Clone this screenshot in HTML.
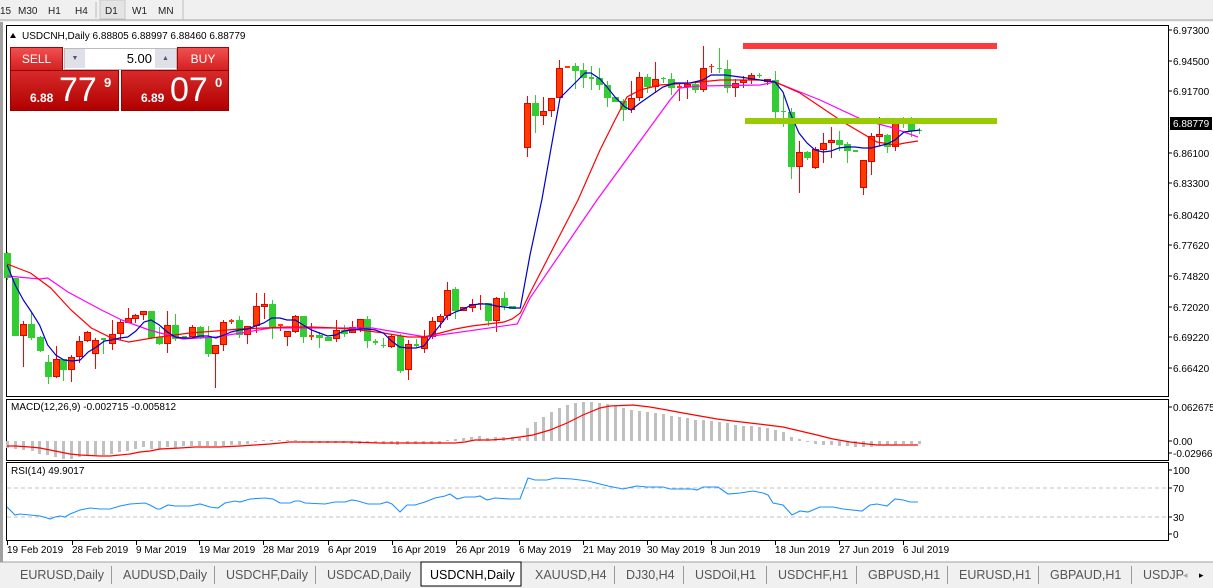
<!DOCTYPE html>
<html><head><meta charset="utf-8"><style>
*{margin:0;padding:0;box-sizing:border-box}
body{width:1213px;height:588px;overflow:hidden;background:#f0f0f0;font-family:"Liberation Sans",Arial,sans-serif;position:relative}
svg{position:absolute;left:0;top:0}
.tp{position:absolute;font-family:"Liberation Sans",sans-serif}
</style></head><body>
<svg id="s" width="1213" height="588" xmlns="http://www.w3.org/2000/svg" font-family="Liberation Sans, sans-serif">
<rect x="0" y="0" width="1213" height="20" fill="#f0f0f0"/>
<line x1="0" y1="20" x2="1213" y2="20" stroke="#a0a0a0"/>
<g font-size="10" fill="#222">
<text x="0" y="14">15</text><text x="18" y="14">M30</text><text x="48" y="14">H1</text><text x="75" y="14">H4</text>
<line x1="96" y1="2" x2="96" y2="18" stroke="#bbb"/>
<rect x="100" y="0" width="25" height="19" fill="#e4e4e4" stroke="#c8c8c8"/>
<text x="105" y="14">D1</text><text x="132" y="14">W1</text><text x="158" y="14">MN</text>
<line x1="183" y1="0" x2="183" y2="20" stroke="#bbb"/>
</g>
<rect x="0" y="22" width="1213" height="540" fill="#fff"/>
<rect x="0" y="22" width="3" height="540" fill="#a0a0a0"/>
<rect x="6.5" y="25.5" width="1162" height="371" fill="#fff" stroke="#000"/>
<rect x="6.5" y="399.5" width="1162" height="61" fill="#fff" stroke="#000"/>
<rect x="6.5" y="462.5" width="1162" height="78" fill="#fff" stroke="#000"/>
<line x1="7" y1="488" x2="1168" y2="488" stroke="#c0c0c0" stroke-dasharray="4,3"/>
<line x1="7" y1="517" x2="1168" y2="517" stroke="#c0c0c0" stroke-dasharray="4,3"/>
<rect x="743" y="43" width="254" height="6" fill="#ff3a3a"/>
<g id="mac"></g><g id="cand"></g>
<rect x="745" y="118" width="252" height="6" fill="#99cc00"/>
<g id="axis" font-size="10" fill="#000"></g>
<text x="11" y="410" font-size="10">MACD(12,26,9) -0.002715 -0.005812</text>
<text x="11" y="474" font-size="10">RSI(14) 49.9017</text>
<text x="22" y="39" font-size="10" fill="#000">USDCNH,Daily  6.88805 6.88997 6.88460 6.88779</text>
<path d="M10 38 L13 33 L16 38Z" fill="#000"/>
<rect x="0" y="562" width="1213" height="26" fill="#f0f0f0"/>
<line x1="0" y1="562" x2="1213" y2="562" stroke="#a0a0a0"/>
<g id="tabs" font-size="12.5" fill="#555"></g>
</svg>
<div class="tp" style="left:10px;top:47px;width:53px;height:24px;background:linear-gradient(#f05050,#d42020);border:1px solid #a00;color:#fff;font-size:12px;text-align:center;line-height:22px">SELL</div>
<div class="tp" style="left:64px;top:48px;width:113px;height:22px;background:#fff;border:1px solid #bbb"></div>
<div class="tp" style="left:65px;top:49px;width:20px;height:19px;background:#e0e0e8;color:#557;font-size:7px;text-align:center;line-height:19px">▼</div>
<div class="tp" style="left:155px;top:49px;width:21px;height:19px;background:#e0e0e8;color:#557;font-size:7px;text-align:center;line-height:19px">▲</div>
<div class="tp" style="left:100px;top:49px;width:52px;font-size:13px;text-align:right;line-height:19px">5.00</div>
<div class="tp" style="left:177px;top:47px;width:52px;height:24px;background:linear-gradient(#f05050,#d42020);border:1px solid #a00;color:#fff;font-size:12px;text-align:center;line-height:22px">BUY</div>
<div class="tp" style="left:10px;top:70px;width:109px;height:41px;background:linear-gradient(#d82a2a,#b00000);border:1px solid #900;color:#fff">
<span style="position:absolute;left:19px;top:20px;font-size:12px;font-weight:bold">6.88</span>
<span style="position:absolute;left:48px;top:0px;font-size:34px;line-height:38px">77</span>
<span style="position:absolute;left:93px;top:4px;font-size:13px;font-weight:bold">9</span></div>
<div class="tp" style="left:121px;top:70px;width:108px;height:41px;background:linear-gradient(#d82a2a,#b00000);border:1px solid #900;color:#fff">
<span style="position:absolute;left:19px;top:20px;font-size:12px;font-weight:bold">6.89</span>
<span style="position:absolute;left:48px;top:0px;font-size:34px;line-height:38px">07</span>
<span style="position:absolute;left:93px;top:4px;font-size:13px;font-weight:bold">0</span></div>
<script>
var NS="http://www.w3.org/2000/svg";
function el(p,t,a,txt){var e=document.createElementNS(NS,t);for(var k in a)e.setAttribute(k,a[k]);if(txt!==undefined)e.textContent=txt;document.getElementById(p).appendChild(e);return e;}
var K=1.0142;
var A=[[7,253,278,252,280,'g'],[15,278,336,278,336,'g'],[23,324,336,321,367,'r'],[31,324,338,312,340,'g'],[39,337,351,336,352,'g'],[47,362,377,355,384,'g'],[55,359,377,346,378,'r'],[62,359,370,359,381,'g'],[70,357,370,355,382,'r'],[78,341,357,336,363,'r'],[86,332,341,331,342,'r'],[94,340,354,338,369,'r'],[102,338,340,338,354,'g'],[110,334,344,320,350,'r'],[118,322,334,320,340,'r'],[126,318,323,308,323,'r'],[133,315,319,314,323,'r'],[141,311,315,311,320,'r'],[149,311,338,311,339,'g'],[157,337,344,327,345,'g'],[165,325,344,311,353,'r'],[173,325,339,314,341,'g'],[181,336,338,336,339,'g'],[189,327,337,325,339,'r'],[197,327,338,326,339,'g'],[205,337,354,326,357,'g'],[212,345,354,345,388,'r'],[220,322,345,320,351,'r'],[228,320,322,319,324,'r'],[236,320,335,316,338,'g'],[244,326,335,326,344,'r'],[252,306,326,293,333,'r'],[260,304,307,293,319,'r'],[268,304,327,300,339,'g'],[276,324,326,324,331,'r'],[283,331,337,331,346,'r'],[291,316,332,315,333,'r'],[299,316,337,316,343,'g'],[307,335,337,323,340,'r'],[315,335,338,332,348,'g'],[323,337,341,337,341,'g'],[331,330,339,320,342,'r'],[339,330,334,325,337,'g'],[347,327,333,321,333,'r'],[355,319,328,319,332,'r'],[362,319,341,316,348,'g'],[370,341,343,339,345,'g'],[378,345,346,338,348,'g'],[386,336,347,334,348,'r'],[394,336,371,334,373,'g'],[402,344,370,340,380,'r'],[410,344,346,339,347,'g'],[418,337,349,330,353,'r'],[426,321,337,317,339,'r'],[434,316,322,314,328,'r'],[441,290,316,282,320,'r'],[449,289,311,287,319,'g'],[457,307,311,307,311,'r'],[465,304,308,299,312,'r'],[473,303,304,295,310,'r'],[481,303,321,303,326,'g'],[489,298,321,297,332,'r'],[497,298,306,292,310,'g'],[505,306,309,306,309,'g']];
A.forEach(function(c){c[0]=Math.round(c[0]*K);});
var B=[[527,103,148,96,157,'r'],[535,103,116,95,133,'g'],[543,111,116,97,125,'r'],[551,98,111,98,117,'r'],[559,68,98,60,98,'r'],[567,66,68,66,68,'r'],[575,66,71,63,89,'g'],[583,70,78,63,88,'g'],[591,77,79,66,90,'g'],[599,78,85,68,90,'g'],[607,85,98,81,107,'g'],[615,97,102,97,102,'g'],[623,101,110,99,121,'g'],[631,98,110,81,113,'r'],[639,77,98,72,101,'r'],[647,77,87,74,93,'g'],[655,79,87,62,93,'r'],[663,78,79,77,83,'g'],[671,79,88,73,95,'g'],[679,86,88,83,101,'r'],[687,84,87,80,99,'r'],[695,84,90,83,93,'g'],[703,68,90,46,92,'r'],[711,66,67,64,73,'r'],[719,68,69,48,73,'g'],[727,69,88,60,93,'g'],[735,83,88,79,97,'r'],[743,80,83,76,88,'r'],[751,75,80,73,84,'r'],[759,75,76,73,78,'g'],[767,79,82,79,85,'r'],[775,80,112,71,119,'g'],[783,111,112,95,127,'g'],[791,112,167,108,179,'g'],[799,152,167,141,193,'r'],[807,152,158,151,160,'g'],[815,149,168,147,169,'r'],[823,143,150,133,163,'r'],[831,140,143,127,158,'r'],[839,140,145,131,151,'g'],[847,144,151,142,163,'g'],[855,150,152,150,152,'g'],[863,160,188,160,195,'r'],[871,136,162,133,175,'r'],[879,134,137,117,146,'r'],[887,135,147,134,153,'g'],[895,123,147,119,151,'r'],[903,118,124,117,128,'g'],[911,123,131,117,137,'g'],[919,130,131,128,134,'g']];
A.concat(B).forEach(function(c){
 var x=c[0],col=c[5]=='g'?'#32cd32':'#ff3a00',wc=c[5]=='g'?'#32cd32':'#ff0000';
 el('cand','line',{x1:x+0.5,x2:x+0.5,y1:c[3],y2:c[4],stroke:wc});
 var h=Math.max(1,c[2]-c[1]);
 if(c[2]-c[1]<=2) el('cand','rect',{x:x-2,y:c[1],width:5,height:h,fill:col});
 else el('cand','rect',{x:x-2.5,y:c[1]+0.5,width:6,height:h-1,fill:col,stroke:c[5]=='g'?'#32cd32':'#e00000'});
});
function pl(pts,col,sc,n){var s=pts.map(function(p,i){var x=(sc&&i<n)?p[0]*K:p[0];return x+','+p[1];}).join(' ');el('cand','polyline',{points:s,fill:'none',stroke:col,'stroke-width':1.2});}
var blue=[[7,265],[15,285],[23,300],[31,312],[39,325],[47,345],[55,355],[63,360],[71,361],[79,360],[87,352],[95,347],[103,341],[110,340],[118,338],[126,337],[134,331],[142,322],[149,320],[157,325],[165,332],[173,337],[181,338],[189,338],[197,336],[205,336],[213,338],[221,335],[228,332],[236,330],[244,329],[252,326],[260,323],[268,318],[276,318],[283,320],[291,320],[299,325],[307,330],[315,333],[323,336],[331,335],[339,331],[347,330],[355,329],[362,329],[370,330],[378,333],[386,341],[394,347],[402,348],[410,348],[418,346],[426,335],[434,325],[441,316],[449,312],[457,309],[465,305],[473,304],[481,304],[489,306],[497,307],[505,308],[513,308],[530,255],[542,199],[560,98],[575,83],[585,73],[591,73],[600,79],[607,87],[615,97],[625,107],[631,110],[640,103],[650,96],[663,87],[675,83],[690,83],[703,80],[711,75],[725,75],[740,77],[760,80],[775,82],[783,92],[791,115],[799,133],[807,143],[815,150],[823,152],[831,151],[839,148],[847,147],[855,147],[863,148],[871,148],[879,146],[887,144],[895,140],[904,132],[912,131],[920,130]];
var red=[[7,264],[30,273],[50,288],[70,310],[90,328],[110,338],[127,342],[150,338],[187,333],[213,331],[236,329],[260,328],[283,327],[307,327],[331,328],[355,330],[378,333],[402,337],[418,337],[434,333],[449,329],[465,326],[481,324],[497,322],[505,319],[513,313],[530,293],[578,200],[600,150],[616,118],[627,97],[640,90],[660,85],[690,83],[720,80],[760,80],[775,82],[800,93],[843,122],[877,142],[895,145],[905,143],[918,141]];
var mag=[[7,276],[39,279],[47,278],[67,292],[100,310],[120,320],[147,330],[180,339],[213,337],[267,328],[333,328],[367,328],[420,337],[510,324],[530,298],[597,200],[670,100],[680,88],[700,86],[760,85],[775,82],[820,100],[863,120],[890,127],[918,137]];
pl(mag,'#ff00ff',true,14);pl(red,'#ff0000',true,26);pl(blue,'#0000cc',true,65);
var H=[[7,448],[15,449],[23,450],[32,451],[39,454],[47,455],[55,457],[63,459],[71,459],[79,457],[87,456],[95,455],[103,455],[111,454],[119,452],[127,451],[135,449],[143,447],[151,449],[159,449],[167,447],[175,448],[183,446],[191,446],[199,446],[207,446],[215,446],[223,446],[231,445],[239,445],[247,444],[255,442],[263,440],[271,440],[279,440],[287,440],[295,440],[303,442],[311,443],[319,443],[327,443],[335,443],[343,443],[351,444],[359,444],[367,443],[375,443],[383,444],[391,444],[397,445],[407,444],[415,444],[423,444],[431,444],[439,444],[447,440],[455,439],[463,438],[471,437],[479,436],[487,438],[495,437],[503,437],[512,437],[519,438],[527,428],[535,422],[543,417],[551,412],[559,408],[567,405],[575,403],[583,402],[591,402],[599,403],[607,404],[615,406],[623,408],[631,410],[639,411],[647,412],[655,413],[663,414],[671,416],[679,417],[687,418],[695,420],[703,420],[711,421],[719,422],[727,423],[735,425],[743,426],[751,426],[759,427],[767,428],[775,430],[783,432],[791,437],[799,439],[807,441],[815,444],[823,445],[831,445],[839,446],[847,446],[855,447],[863,447],[871,447],[879,445],[887,445],[895,445],[903,444],[911,444],[919,444]];
H.forEach(function(h){var y0=441,y1=h[1];el('mac','rect',{x:h[0]-1,y:Math.min(y0,y1),width:3,height:Math.max(1,Math.abs(y1-y0)),fill:'#c0c0c0'});});
var sig=[[7,446],[15,446],[30,447],[40,448],[50,450],[60,452],[70,454],[80,455],[100,456],[110,456],[120,455],[130,454],[140,452],[150,451],[160,449],[180,448],[195,447],[220,447],[240,446],[255,445],[270,444],[290,442],[350,442],[380,443],[455,443],[465,442],[475,440],[490,440],[505,439],[520,437],[533,435],[550,430],[567,423],[583,415],[600,408],[610,406],[633,405],[650,407],[667,410],[683,413],[700,416],[717,419],[733,421],[750,423],[767,425],[783,427],[800,431],[817,435],[833,439],[850,442],[867,444],[877,445],[918,445]];
el('mac','polyline',{points:sig.map(function(p){return p.join(',')}).join(' '),fill:'none',stroke:'#ff0000','stroke-width':1.2});
var rsi=[[7,507],[15,515],[20,514],[30,515],[40,516],[47,518],[50,519],[55,517],[60,516],[65,517],[70,514],[80,510],[90,508],[100,509],[110,509],[120,506],[130,504],[145,503],[150,505],[157,509],[160,509],[168,505],[175,506],[190,506],[200,504],[210,507],[218,508],[225,503],[235,501],[240,502],[250,499],[265,498],[273,499],[280,503],[290,503],[295,501],[300,501],[305,503],[325,504],[335,502],[345,502],[352,500],[358,501],[368,504],[380,504],[387,502],[392,504],[400,512],[407,505],[415,505],[425,502],[435,498],[445,496],[450,494],[457,499],[465,497],[475,497],[480,496],[487,500],[495,498],[510,499],[520,499],[528,478],[535,480],[547,480],[555,478],[572,479],[588,481],[600,484],[608,486],[618,488],[623,489],[637,486],[647,487],[663,487],[670,489],[692,489],[697,490],[703,487],[718,487],[728,494],[740,493],[753,491],[763,493],[768,495],[773,503],[783,505],[792,515],[800,511],[808,512],[820,507],[833,507],[843,509],[862,511],[870,505],[877,504],[887,506],[895,499],[903,500],[910,502],[918,502]];
el('mac','polyline',{points:rsi.map(function(p){return p.join(',')}).join(' '),fill:'none',stroke:'#1e90ff','stroke-width':1.1});
var P=[['6.97300',30],['6.94500',61],['6.91700',91],['6.86100',153],['6.83300',183],['6.80420',215],['6.77620',245],['6.74820',276],['6.72020',307],['6.69220',337],['6.66420',368],['0.062675',407],['0.00',441],['-0.029668',453],['100',470],['70',488],['30',517],['0',534]];
P.forEach(function(p){el('axis','line',{x1:1169,x2:1172,y1:p[1],y2:p[1],stroke:'#000'});el('axis','text',{x:1173,y:p[1]+4},p[0]);});
el('axis','rect',{x:1170,y:117,width:42,height:13,fill:'#000'});
el('axis','text',{x:1173,y:127,fill:'#fff'},'6.88779');
var D=[[7,'19 Feb 2019'],[72,'28 Feb 2019'],[136,'9 Mar 2019'],[199,'19 Mar 2019'],[263,'28 Mar 2019'],[328,'6 Apr 2019'],[392,'16 Apr 2019'],[456,'26 Apr 2019'],[519,'6 May 2019'],[583,'21 May 2019'],[647,'30 May 2019'],[711,'8 Jun 2019'],[775,'18 Jun 2019'],[839,'27 Jun 2019'],[903,'6 Jul 2019']];
D.forEach(function(d){el('axis','line',{x1:d[0]+0.5,x2:d[0]+0.5,y1:541,y2:545,stroke:'#000'});el('axis','text',{x:d[0],y:553},d[1]);});
el('tabs','rect',{x:421,y:562,width:100,height:24,fill:'#fff',stroke:'#000'});
var T=[[20,'EURUSD,Daily'],[123,'AUDUSD,Daily'],[226,'USDCHF,Daily'],[327,'USDCAD,Daily'],[430,'USDCNH,Daily'],[535,'XAUUSD,H4'],[626,'DJ30,H4'],[695,'USDOil,H1'],[778,'USDCHF,H1'],[868,'GBPUSD,H1'],[959,'EURUSD,H1'],[1050,'GBPAUD,H1'],[1143,'USDJP']];
T.forEach(function(t,i){el('tabs','text',{x:t[0],y:579,fill:i==4?'#000':'#555'},t[1]);if(i>0&&i!=4&&i!=5)el('tabs','line',{x1:t[0]-11.5,x2:t[0]-11.5,y1:566,y2:584,stroke:'#999'});});
el('tabs','text',{x:1183,y:578,'font-size':'9',fill:'#aaa'},'◂');
el('tabs','text',{x:1199,y:578,'font-size':'9',fill:'#000'},'▸');
</script>
</body></html>
